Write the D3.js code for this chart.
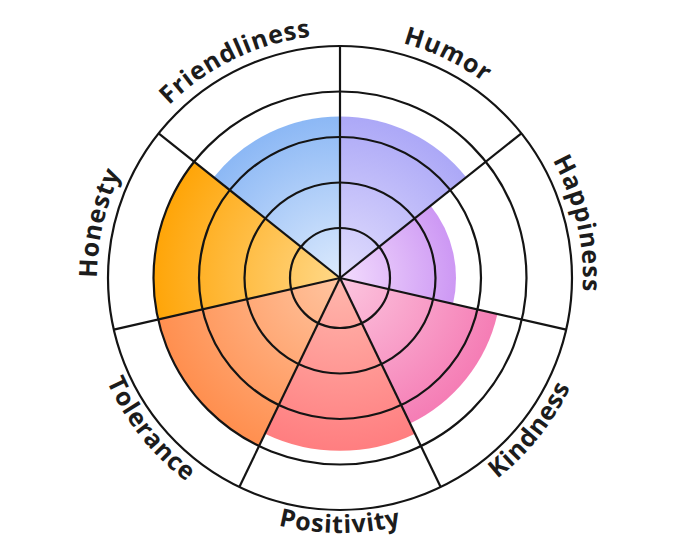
<!DOCTYPE html>
<html>
<head>
<meta charset="utf-8">
<script src="https://cdn.jsdelivr.net/npm/d3@7"></script>
<style>
	body { margin: 0; background: #fff; }
	svg { display: block; }
</style>
</head>
<body>
<div id="chart"></div>
<script>
(function() {
	"use strict";

	var categories = ["Humor", "Happiness", "Kindness", "Positivity", "Tolerance", "Honesty", "Friendliness"];
	var values = [3.45, 2.45, 3.45, 3.7, 4, 4, 3.45];
	var innerColors = ["#e2defd", "#f3dcfd", "#fcc6df", "#ffb7ad", "#ffc4a0", "#ffd888", "#dceafd"];
	var outerColors = ["#aca8f7", "#cd98f4", "#f57db5", "#ff7e80", "#ff8f4f", "#ffa508", "#8cb8f5"];
	var ringLevels = [1, 2, 3, 4, 5];

	var width = 680,
		height = 557,
		cx = 340,
		cy = 278;

	var svg = d3.select("#chart").append("svg")
		.attr("width", width)
		.attr("height", height);

	var g = svg.append("g")
		.attr("transform", "translate(" + cx + "," + cy + ")");

	var angle = d3.scaleBand()
		.domain(categories)
		.range([0, 2 * Math.PI])
		.paddingInner(0)
		.paddingOuter(0);

	var r = d3.scaleLinear()
		.domain([0, 5])
		.range([4.5, 232]);

	var defs = svg.append("defs");

	categories.forEach(function(c, i) {
		var grad = defs.append("radialGradient")
			.attr("id", "grad" + i)
			.attr("gradientUnits", "userSpaceOnUse")
			.attr("cx", 0)
			.attr("cy", 0)
			.attr("r", r(values[i]));
		grad.append("stop").attr("offset", "0%").style("stop-color", innerColors[i]);
		grad.append("stop").attr("offset", "100%").style("stop-color", outerColors[i]);
	});

	var arc = d3.arc()
		.innerRadius(0)
		.outerRadius(function(d) { return r(d.value); })
		.startAngle(function(d) { return angle(d.name); })
		.endAngle(function(d) { return angle(d.name) + angle.bandwidth(); });

	var data = categories.map(function(c, i) {
		return { name: c, value: values[i], index: i };
	});

	g.selectAll("path.sector")
		.data(data)
		.enter()
		.append("path")
		.attr("class", "sector")
		.attr("d", arc)
		.style("fill", function(d) { return "url(#grad" + d.index + ")"; });

	// rings
	g.selectAll("circle.ring")
		.data(ringLevels)
		.enter()
		.append("circle")
		.attr("class", "ring")
		.attr("r", function(d) { return r(d); })
		.style("fill", "none")
		.style("stroke", "#141414")
		.style("stroke-width", 2.2);

	// spokes
	g.selectAll("line.spoke")
		.data(categories)
		.enter()
		.append("line")
		.attr("class", "spoke")
		.attr("x1", 0)
		.attr("y1", 0)
		.attr("x2", function(d) { return r(5) * Math.sin(angle(d)); })
		.attr("y2", function(d) { return -r(5) * Math.cos(angle(d)); })
		.style("stroke", "#141414")
		.style("stroke-width", 2.2);

	// curved labels
	function pt(rad, a) {
		return [rad * Math.sin(a), -rad * Math.cos(a)];
	}

	data.forEach(function(d) {
		var a0 = angle(d.name),
			a1 = a0 + angle.bandwidth(),
			mid = (a0 + a1) / 2,
			flip = mid > Math.PI / 2 && mid < 3 * Math.PI / 2,
			path;
		if (!flip) {
			var R = 243, p0 = pt(R, a0), p1 = pt(R, a1);
			path = "M" + p0[0] + "," + p0[1] + " A" + R + "," + R + " 0 0 1 " + p1[0] + "," + p1[1];
		} else {
			var R2 = 255, q0 = pt(R2, a1), q1 = pt(R2, a0);
			path = "M" + q0[0] + "," + q0[1] + " A" + R2 + "," + R2 + " 0 0 0 " + q1[0] + "," + q1[1];
		}
		defs.append("path")
			.attr("id", "lp" + d.index)
			.attr("d", path);

		g.append("text")
			.style("font-family", "'Open Sans', sans-serif")
			.style("font-weight", 700)
			.style("font-size", "25px")
			.style("letter-spacing", "0.8px")
			.style("fill", "#1c1c1c")
			.append("textPath")
			.attr("href", "#lp" + d.index)
			.attr("startOffset", "50%")
			.attr("text-anchor", "middle")
			.text(d.name);
	});

})();
</script>
</body>
</html>
